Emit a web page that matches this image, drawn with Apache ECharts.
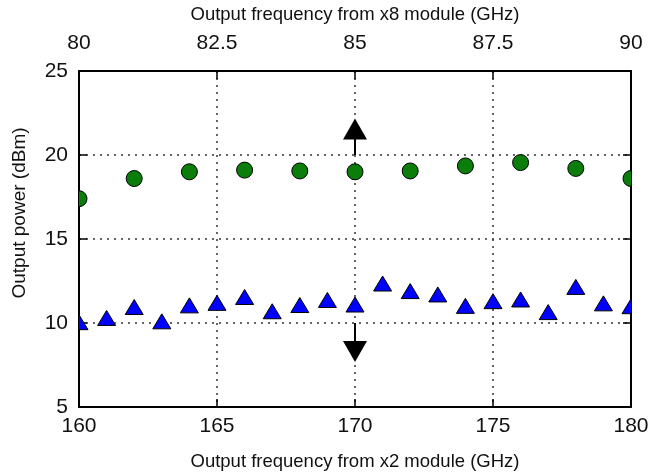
<!DOCTYPE html>
<html>
<head>
<meta charset="utf-8">
<script src="https://cdn.jsdelivr.net/npm/echarts@6/dist/echarts.min.js"></script>
<style>html,body{margin:0;padding:0;background:#fff;}#c{width:648px;height:472px;}</style>
</head>
<body>
<div id="c"></div>
<script>
// x8 module: power vs x2-module frequency (GHz) and power (dBm)
const x8Freq = [160, 162, 164, 166, 168, 170, 172, 174, 176, 178, 180];
const x8Power = [17.4, 18.6, 19.0, 19.1, 19.05, 19.0, 19.05, 19.35, 19.55, 19.2, 18.6];
const x2Freq = [160, 161, 162, 163, 164, 165, 166, 167, 168, 169, 170, 171, 172, 173, 174, 175, 176, 177, 178, 179, 180];
const x2Power = [10.05, 10.3, 10.95, 10.1, 11.05, 11.2, 11.55, 10.7, 11.07, 11.37, 11.1, 12.35, 11.9, 11.7, 11.02, 11.3, 11.4, 10.65, 12.15, 11.17, 11.0];
const bottomTicks = [160, 165, 170, 175, 180];
const topTicks = [80, 82.5, 85, 87.5, 90];
const yTicks = [5, 10, 15, 20, 25];
const upArrow = [[170, 20], [170, 21.55]];
const downArrow = [[170, 10], [170, 8.3]];

const font = 'Liberation Sans, Arial, Helvetica, sans-serif';
const txt = '#111';
const chart = echarts.init(document.getElementById('c'), null, {renderer: 'canvas'});
const gridLine = {show: true, lineStyle: {color: '#333', width: 1.5, type: [2, 5]}};
const axLine = {show: true, onZero: false, lineStyle: {color: '#000', width: 2}};
const tick = {show: true, inside: true, length: 8, lineStyle: {color: '#000', width: 1.5}};
const labelFont = {color: txt, fontSize: 21, fontFamily: font};
const titleFont = {color: txt, fontSize: 18.5, fontFamily: font};

function circleItem(params, api) {
  const p = api.coord([api.value(0), api.value(1)]);
  return {type: 'circle', shape: {cx: p[0], cy: p[1], r: 8},
    style: {fill: '#0a7d0a', stroke: '#000', lineWidth: 1}};
}
function triangleItem(params, api) {
  const p = api.coord([api.value(0), api.value(1)]);
  const w = 9, h = 7.5;
  return {type: 'polygon', shape: {points: [[p[0], p[1] - h], [p[0] + w, p[1] + h], [p[0] - w, p[1] + h]]},
    style: {fill: '#0000ff', stroke: '#000', lineWidth: 1}};
}

chart.setOption({
  animation: false,
  grid: {left: 79, right: 17, top: 71, bottom: 65, containLabel: false, outerBoundsMode: 'none'},
  xAxis: [
    {
      type: 'value', position: 'bottom', min: bottomTicks[0], max: bottomTicks[bottomTicks.length - 1], interval: 5,
      name: 'Output frequency from x2 module (GHz)', nameLocation: 'middle', nameGap: 45,
      nameTextStyle: titleFont,
      axisLine: axLine, axisTick: tick,
      axisLabel: Object.assign({margin: 9}, labelFont),
      splitLine: gridLine
    },
    {
      type: 'value', position: 'top', min: topTicks[0], max: topTicks[topTicks.length - 1], interval: 2.5,
      name: 'Output frequency from x8 module (GHz)', nameLocation: 'middle', nameGap: 47,
      nameTextStyle: titleFont,
      axisLine: axLine, axisTick: tick,
      axisLabel: Object.assign({margin: 17}, labelFont),
      splitLine: {show: false}
    }
  ],
  yAxis: [
    {
      type: 'value', position: 'left', min: yTicks[0], max: yTicks[yTicks.length - 1], interval: 5,
      name: 'Output power (dBm)', nameLocation: 'middle', nameGap: 50,
      nameTextStyle: Object.assign({}, titleFont, {fontSize: 19, padding: [0, 0, 0, 52]}),
      axisLine: axLine, axisTick: tick,
      axisLabel: Object.assign({margin: 11}, labelFont),
      splitLine: gridLine
    },
    {
      type: 'value', position: 'right', min: yTicks[0], max: yTicks[yTicks.length - 1], interval: 5,
      axisLine: axLine, axisTick: tick, axisLabel: {show: false}, splitLine: {show: false}
    }
  ],
  series: [
    {
      type: 'custom', xAxisIndex: 0, yAxisIndex: 0, clip: true,
      data: x8Freq.map((f, i) => [f, x8Power[i]]),
      encode: {x: 0, y: 1},
      renderItem: circleItem,
      z: 3
    },
    {
      type: 'custom', xAxisIndex: 0, yAxisIndex: 0, clip: true,
      data: x2Freq.map((f, i) => [f, x2Power[i]]),
      encode: {x: 0, y: 1},
      renderItem: triangleItem,
      z: 3,
      markLine: {
        silent: true, animation: false,
        symbol: ['none', 'triangle'], symbolSize: [24, 21],
        label: {show: false},
        lineStyle: {color: '#000', width: 2, type: 'solid'},
        itemStyle: {color: '#000'},
        emphasis: {disabled: true},
        data: [
          [{coord: upArrow[0]}, {coord: upArrow[1]}],
          [{coord: downArrow[0]}, {coord: downArrow[1]}]
        ]
      }
    }
  ]
});
</script>
</body>
</html>
